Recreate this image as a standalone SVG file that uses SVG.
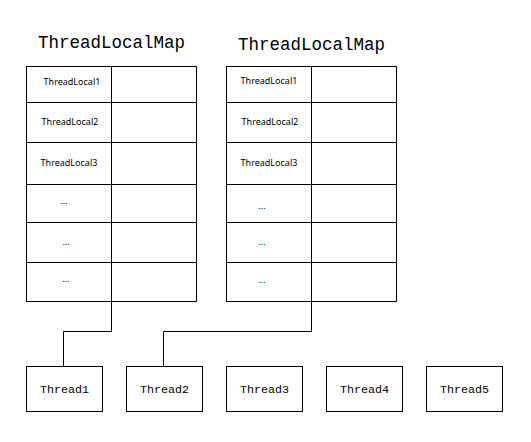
<svg xmlns="http://www.w3.org/2000/svg" width="531" height="442" viewBox="0 0 531 442">
<style>
.box{fill:#fff;stroke:#000;stroke-width:1}
.ln{fill:none;stroke:#000;stroke-width:1}
.title{font-family:"Liberation Mono","DejaVu Sans Mono",monospace;font-size:17.5px;fill:#000}
.cell{font-family:"Noto Sans","Liberation Sans",sans-serif;font-size:9px;fill:#000;text-anchor:middle}
.th{font-family:"Liberation Mono","DejaVu Sans Mono",monospace;font-size:11.7px;fill:#000;text-anchor:middle}
</style>
<rect width="531" height="442" fill="#fff"/>
<g id="map1">
<text class="title" x="38" y="48">ThreadLocalMap</text>
<rect class="box" x="26.5" y="66.5" width="170" height="235"/>
<path class="ln" d="M111.5 66.5V301.5M26.5 102.5H196.5M26.5 142.5H196.5M26.5 184.5H196.5M26.5 222.5H196.5M26.5 262.5H196.5"/>
<text class="cell" x="72" y="85">ThreadLocal1</text>
<text class="cell" x="70" y="125">ThreadLocal2</text>
<text class="cell" x="69" y="166">ThreadLocal3</text>
<text class="cell" x="64" y="204">...</text>
<text class="cell" x="66" y="245">...</text>
<text class="cell" x="66" y="282">...</text>
</g>
<g id="map2">
<text class="title" x="238" y="50">ThreadLocalMap</text>
<rect class="box" x="226.5" y="66.5" width="170" height="235"/>
<path class="ln" d="M311.5 66.5V301.5M226.5 102.5H396.5M226.5 142.5H396.5M226.5 184.5H396.5M226.5 222.5H396.5M226.5 262.5H396.5"/>
<text class="cell" x="269" y="84">ThreadLocal1</text>
<text class="cell" x="270" y="125">ThreadLocal2</text>
<text class="cell" x="269" y="166">ThreadLocal3</text>
<text class="cell" x="262" y="209">...</text>
<text class="cell" x="262" y="245">...</text>
<text class="cell" x="262" y="283">...</text>
</g>
<g id="connectors">
<path class="ln" d="M111.5 301.5V331.5H63.5V366.5"/>
<path class="ln" d="M311.5 301.5V331.5H163.5V366.5"/>
</g>
<g id="thread1"><rect class="box" x="26.5" y="366.5" width="76" height="45"/><text class="th" x="64.5" y="393">Thread1</text></g>
<g id="thread2"><rect class="box" x="126.5" y="366.5" width="76" height="45"/><text class="th" x="164.5" y="393">Thread2</text></g>
<g id="thread3"><rect class="box" x="226.5" y="366.5" width="76" height="45"/><text class="th" x="264.5" y="393">Thread3</text></g>
<g id="thread4"><rect class="box" x="326.5" y="366.5" width="76" height="45"/><text class="th" x="364.5" y="393">Thread4</text></g>
<g id="thread5"><rect class="box" x="426.5" y="366.5" width="76" height="45"/><text class="th" x="464.5" y="393">Thread5</text></g>
</svg>
